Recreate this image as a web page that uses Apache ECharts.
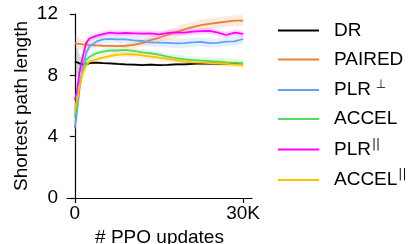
<!DOCTYPE html>
<html><head><meta charset="utf-8">
<script src="https://cdn.jsdelivr.net/npm/echarts@6/dist/echarts.min.js"></script>
<style>html,body{margin:0;padding:0;background:#fff}#c{width:411px;height:244px}</style>
</head><body><div id="c"></div>
<script>
// x in thousands of PPO updates
const xK = [0, 0.4, 0.8, 1.4, 2, 2.6, 3.8, 5, 6.2, 7.5, 9, 10.5, 12, 13.5, 15, 16.5, 18, 19.5, 21, 22.5, 24, 25.5, 27, 28.5, 30];
const names = ['DR', 'PAIRED', 'PLR⊥', 'ACCEL', 'PLR||', 'ACCEL||'];
const colors = ['#000000', '#E8803A', '#62A0F5', '#5CD65C', '#FF00FF', '#FFC000'];
const dr      = [8.89, 8.85, 8.78, 8.72, 8.72, 8.80, 8.83, 8.80, 8.78, 8.75, 8.72, 8.70, 8.67, 8.70, 8.67, 8.68, 8.72, 8.72, 8.75, 8.78, 8.76, 8.76, 8.76, 8.74, 8.76];
const paired  = [10.09, 10.07, 10.05, 10.02, 10.0, 9.98, 9.95, 9.93, 9.92, 9.90, 9.93, 9.98, 10.1, 10.3, 10.45, 10.63, 10.8, 11.0, 11.15, 11.28, 11.36, 11.43, 11.5, 11.57, 11.57];
const plrPerp = [4.55, 5.74, 7.05, 8.46, 9.44, 9.87, 10.2, 10.35, 10.38, 10.35, 10.35, 10.28, 10.24, 10.15, 10.13, 10.12, 10.09, 10.1, 10.15, 10.18, 10.1, 10.12, 10.2, 10.22, 10.37];
const accel   = [5.3, 6.17, 7.26, 8.35, 9.0, 9.2, 9.44, 9.55, 9.62, 9.62, 9.66, 9.6, 9.5, 9.44, 9.35, 9.22, 9.12, 9.05, 9.0, 8.96, 8.93, 8.89, 8.85, 8.83, 8.78];
const plrPar  = [6.4, 7.0, 8.15, 9.2, 10.1, 10.4, 10.57, 10.68, 10.78, 10.74, 10.76, 10.74, 10.72, 10.74, 10.67, 10.76, 10.8, 10.78, 10.85, 10.88, 10.9, 10.78, 10.63, 10.78, 10.7];
const accelPar= [5.74, 6.5, 7.26, 8.13, 8.67, 8.9, 9.04, 9.15, 9.26, 9.33, 9.38, 9.36, 9.3, 9.22, 9.15, 9.07, 9.0, 8.9, 8.85, 8.83, 8.8, 8.78, 8.75, 8.72, 8.67];
// half-widths of the shaded bands
const drBand      = [1.1, 0.9, 0.6, 0.3, 0.15, 0.1, 0.08, 0.08, 0.08, 0.08, 0.08, 0.08, 0.08, 0.08, 0.08, 0.08, 0.08, 0.08, 0.08, 0.08, 0.08, 0.08, 0.08, 0.08, 0.08];
const pairedBand  = [0.6, 0.5, 0.4, 0.3, 0.2, 0.15, 0.12, 0.12, 0.12, 0.12, 0.15, 0.18, 0.22, 0.28, 0.32, 0.35, 0.35, 0.35, 0.35, 0.35, 0.35, 0.35, 0.35, 0.35, 0.35];
const plrPerpBand = [1.3, 1.0, 0.7, 0.5, 0.35, 0.3, 0.3, 0.25, 0.25, 0.25, 0.25, 0.25, 0.25, 0.3, 0.3, 0.3, 0.3, 0.3, 0.3, 0.3, 0.3, 0.3, 0.3, 0.3, 0.3];
const accelBand   = [0.4, 0.35, 0.3, 0.25, 0.2, 0.2, 0.2, 0.2, 0.2, 0.2, 0.2, 0.2, 0.2, 0.2, 0.22, 0.22, 0.25, 0.25, 0.25, 0.25, 0.25, 0.25, 0.25, 0.25, 0.25];
const plrParBand  = [0.8, 0.7, 0.5, 0.35, 0.25, 0.2, 0.2, 0.2, 0.2, 0.2, 0.2, 0.2, 0.2, 0.2, 0.2, 0.2, 0.2, 0.2, 0.2, 0.2, 0.2, 0.2, 0.2, 0.2, 0.2];
const accelParBand= [0.4, 0.35, 0.3, 0.25, 0.2, 0.2, 0.2, 0.2, 0.2, 0.2, 0.2, 0.2, 0.2, 0.2, 0.2, 0.2, 0.2, 0.2, 0.2, 0.2, 0.2, 0.2, 0.2, 0.2, 0.2];
const xTicks = [0, 30];
const xTickLabels = ['0', '30K'];
const yTicks = [0, 4, 8, 12];

const means = [dr, paired, plrPerp, accel, plrPar, accelPar];
const bands = [drBand, pairedBand, plrPerpBand, accelBand, plrParBand, accelParBand];
const FONT = 'Liberation Sans, Arial, Helvetica, sans-serif';

const series = [];
means.forEach((m, i) => {
  const b = bands[i];
  const bandData = xK.map((x, j) => [x, m[j] - b[j], m[j] + b[j]]);
  series.push({
    name: names[i] + ' band', type: 'custom', coordinateSystem: 'cartesian2d', silent: true, z: 1,
    data: bandData,
    encode: { x: 0, y: [1, 2] },
    renderItem: (params, api) => {
      if (params.dataIndex !== 0) return null;
      const upper = bandData.map(d => api.coord([d[0], d[2]]));
      const lower = bandData.map(d => api.coord([d[0], d[1]])).reverse();
      return {
        type: 'polygon', shape: { points: upper.concat(lower) },
        style: { fill: colors[i], opacity: 0.16 }
      };
    }
  });
});
means.forEach((m, i) => {
  series.push({
    name: names[i], type: 'line', data: xK.map((x, j) => [x, m[j]]),
    symbol: 'none', lineStyle: { color: colors[i], width: 1.8 }, itemStyle: { color: colors[i] }, z: 3
  });
});

const legendFmt = n => {
  if (n === 'PLR⊥') return '{n|PLR}{s| ⊥}';
  if (n === 'PLR||') return '{n|PLR}{s|||}';
  if (n === 'ACCEL||') return '{n|ACCEL}{s|||}';
  return '{n|' + n + '}';
};

const chart = echarts.init(document.getElementById('c'));
chart.setOption({
  animation: false,
  backgroundColor: '#fff',
  textStyle: { fontFamily: FONT },
  grid: { left: 67, right: 159, top: 14, bottom: 46, containLabel: false, outerBoundsMode: 'none' },
  xAxis: {
    type: 'value', min: -1.4, max: 31.6,
    name: '# PPO updates', nameLocation: 'middle', nameGap: 28,
    nameTextStyle: { fontSize: 19, color: '#000', fontFamily: FONT },
    axisLine: { lineStyle: { color: '#000', width: 1.2 } },
    axisTick: { customValues: xTicks, length: 5, lineStyle: { color: '#000', width: 1.2 } },
    axisLabel: { customValues: xTicks, formatter: v => xTickLabels[xTicks.indexOf(v)], fontSize: 19, color: '#000', margin: 6, fontFamily: FONT },
    splitLine: { show: false }
  },
  yAxis: {
    type: 'value', min: 0, max: 12, interval: 4,
    name: 'Shortest path length', nameLocation: 'middle', nameGap: 36,
    nameTextStyle: { fontSize: 19, color: '#000', fontFamily: FONT },
    axisLine: { show: true, lineStyle: { color: '#000', width: 1.2 } },
    axisTick: { show: true, customValues: yTicks, length: 5, lineStyle: { color: '#000', width: 1.2 } },
    axisLabel: { customValues: yTicks, fontSize: 19, color: '#000', margin: 9, fontFamily: FONT },
    splitLine: { show: false }
  },
  legend: {
    orient: 'vertical', left: 278, top: 21, padding: 0,
    data: names.map((n, i) => ({ name: n, icon: 'rect', itemStyle: { color: colors[i] } })),
    itemWidth: 41, itemHeight: 2, itemGap: 10,
    formatter: legendFmt,
    textStyle: {
      color: '#000', padding: [0, 0, 0, 10],
      rich: {
        n: { fontSize: 19, color: '#000', lineHeight: 22, fontFamily: FONT },
        s: { fontSize: 12, color: '#000', verticalAlign: 'top', lineHeight: 22, padding: [0, 0, 8, 1], fontFamily: 'DejaVu Sans, sans-serif' }
      }
    }
  },
  series: series
});
</script></body></html>
